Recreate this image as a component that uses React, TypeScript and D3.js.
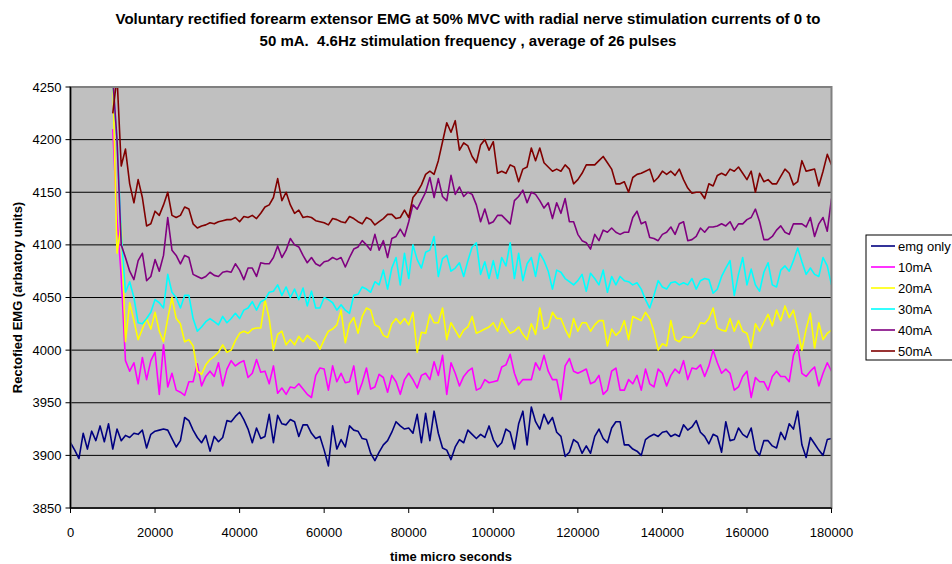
import React from 'react';
import * as d3 from 'd3';

// sample spacing of the averaged traces (micro seconds)
const sampleStep = 1000;
const emgOnlyStart = 0;
const stimStart = 10000;

const emgOnly = [
  3912, 3905, 3897, 3921, 3906, 3923, 3914, 3928, 3913, 3930,
  3906, 3925, 3914, 3919, 3917, 3921, 3920, 3924, 3907, 3920,
  3923, 3924, 3925, 3924, 3916, 3908, 3914, 3936, 3933, 3924,
  3917, 3912, 3919, 3904, 3918, 3913, 3917, 3933, 3932, 3937,
  3941, 3934, 3925, 3912, 3926, 3916, 3918, 3939, 3912, 3938,
  3930, 3929, 3934, 3932, 3918, 3929, 3929, 3921, 3916, 3918,
  3905, 3890, 3928, 3906, 3915, 3908, 3928, 3924, 3923, 3916,
  3915, 3902, 3895, 3903, 3910, 3914, 3922, 3932, 3928, 3925,
  3926, 3921, 3939, 3912, 3940, 3914, 3942, 3921, 3907, 3905,
  3896, 3908, 3915, 3912, 3924, 3920, 3916, 3920, 3917, 3928,
  3915, 3908, 3912, 3925, 3922, 3906, 3930, 3942, 3910, 3946,
  3932, 3925, 3939, 3930, 3936, 3922, 3918, 3899, 3903, 3915,
  3912, 3902, 3909, 3902, 3918, 3925, 3916, 3912, 3926, 3932,
  3932, 3910, 3910, 3906, 3904, 3900, 3915, 3918, 3920, 3918,
  3922, 3923, 3918, 3920, 3918, 3929, 3924, 3927, 3933, 3922,
  3918, 3911, 3920, 3918, 3903, 3932, 3914, 3915, 3926, 3920,
  3917, 3926, 3905, 3900, 3914, 3914, 3909, 3907, 3922, 3915,
  3930, 3925, 3942, 3910, 3898, 3917, 3911, 3905, 3900, 3915,
  3916,
];

const stim10mA = [
  4210, 4125, 4070, 3990, 3980, 3988, 3968, 3993, 3972, 3990,
  3998, 3958, 4005, 3965, 3978, 3962, 3960, 3957, 3970, 3970,
  3987, 3966, 3975, 3980, 3975, 3988, 3966, 3982, 3990, 3985,
  3988, 3990, 3974, 3978, 3991, 3979, 3980, 3968, 3985, 3959,
  3964, 3958, 3965, 3964, 3968, 3963, 3958, 3955, 3976, 3983,
  3982, 3962, 3985, 3970, 3978, 3969, 3970, 3985, 3958, 3969,
  3983, 3963, 3965, 3977, 3974, 3960, 3976, 3970, 3958, 3972,
  3978, 3972, 3964, 3976, 3978, 3972, 3989, 3976, 3995, 3958,
  3988, 3978, 3966, 3975, 3980, 3983, 3962, 3964, 3972, 3969,
  3970, 3971, 3984, 3986, 3996, 3978, 3967, 3972, 3972, 3972,
  3988, 3981, 3995, 3980, 3972, 3972, 3953, 3985, 3992, 3980,
  3978, 3980, 3982, 3968, 3970, 3976, 3958, 3962, 3980, 3983,
  3962, 3962, 3972, 3968, 3976, 3962, 3982, 3968, 3965, 3982,
  3978, 3966, 3976, 3982, 3978, 3990, 3972, 3983, 3982, 3986,
  3975, 3985, 4000, 3988, 3978, 3982, 3978, 3962, 3965, 3975,
  3980, 3955, 3974, 3970, 3970, 3962, 3975, 3980, 3975, 3975,
  3970, 3995, 4005, 3978, 3975, 3980, 3984, 3966, 3978, 3988,
  3980,
];

const stim20mA = [
  4260, 4092, 4120, 4008, 4045, 4028, 4010, 4020, 4030, 4020,
  4036, 4018, 4008, 4030, 4050, 4030, 4025, 4008, 4010, 4004,
  3980, 3977, 3986, 3991, 3994, 3998, 4005, 3998, 4000, 4009,
  4016, 4018, 4016, 4020, 4021, 4021, 4048, 4030, 4000, 4015,
  4018, 4005, 4010, 4005, 4013, 4008, 4014, 4010, 4008, 4001,
  4010, 4018, 4020, 4024, 4038, 4007, 4025, 4031, 4016, 4032,
  4040, 4038, 4024, 4022, 4014, 4012, 4025, 4030, 4025, 4030,
  4024, 4036, 3998, 4017, 4016, 4034, 4026, 4026, 4040, 4010,
  4026, 4019, 4012, 4019, 4022, 4032, 4016, 4018, 4020, 4022,
  4026, 4018, 4030, 4022, 4016, 4018, 4022, 4015, 4010, 4025,
  4015, 4040, 4020, 4022, 4036, 4030, 4030, 4020, 4012, 4030,
  4018, 4026, 4026, 4018, 4024, 4028, 4028, 4004, 4020, 4014,
  4018, 4028, 4010, 4032, 4030, 4028, 4036, 4030, 4018, 4000,
  4006, 4004, 4028, 4010, 4008, 4013, 4012, 4012, 4017, 4026,
  4025, 4030, 4040, 4021, 4019, 4018, 4030, 4018, 4028, 4018,
  4016, 4002, 4025, 4018, 4026, 4034, 4023, 4038, 4028, 4042,
  4031, 4038, 4020, 4000, 4020, 4035, 4002, 4026, 4010, 4016,
  4019,
];

const stim30mA = [
  4255, 4200, 4110, 4055, 4065, 4050, 4026, 4025, 4030, 4036,
  4048, 4045, 4040, 4072, 4055, 4050, 4040, 4052, 4052, 4030,
  4018, 4022, 4027, 4030, 4027, 4024, 4032, 4026, 4030, 4035,
  4030, 4038, 4040, 4046, 4038, 4046, 4048, 4055, 4056, 4062,
  4052, 4060, 4050, 4058, 4048, 4059, 4042, 4056, 4040, 4040,
  4050, 4048, 4045, 4038, 4043, 4038, 4035, 4052, 4053, 4060,
  4058, 4055, 4065, 4062, 4076, 4058, 4078, 4088, 4062, 4092,
  4068, 4100, 4086, 4078, 4093, 4095, 4108, 4070, 4087, 4090,
  4075, 4078, 4083, 4070, 4085, 4098, 4102, 4072, 4084, 4068,
  4085, 4068, 4088, 4080, 4102, 4068, 4092, 4066, 4082, 4088,
  4070, 4092, 4085, 4075, 4058, 4076, 4074, 4068, 4065, 4062,
  4066, 4072, 4056, 4073, 4068, 4062, 4076, 4055, 4070, 4062,
  4070, 4066, 4065, 4062, 4064, 4058, 4048, 4040, 4052, 4066,
  4060, 4058, 4064, 4065, 4062, 4064, 4062, 4068, 4058, 4066,
  4068, 4067, 4054, 4058, 4070, 4078, 4085, 4052, 4072, 4088,
  4062, 4077, 4062, 4056, 4074, 4083, 4062, 4060, 4076, 4080,
  4075, 4085, 4097, 4084, 4072, 4078, 4072, 4070, 4088, 4080,
  4062,
];

const stim40mA = [
  4258, 4200, 4100, 4088, 4075, 4067, 4085, 4092, 4066, 4070,
  4086, 4075, 4090, 4126, 4095, 4090, 4082, 4090, 4088, 4072,
  4070, 4068, 4070, 4074, 4071, 4070, 4074, 4075, 4074, 4082,
  4076, 4067, 4078, 4078, 4070, 4083, 4082, 4082, 4088, 4099,
  4088, 4095, 4106, 4100, 4098, 4090, 4083, 4088, 4082, 4080,
  4084, 4085, 4088, 4086, 4088, 4079, 4088, 4096, 4098, 4104,
  4100, 4095, 4110, 4095, 4104, 4088, 4106, 4108, 4115, 4108,
  4122, 4138, 4134, 4142, 4150, 4164, 4145, 4163, 4146, 4142,
  4166, 4148, 4155, 4146, 4150, 4148, 4138, 4122, 4134, 4120,
  4122, 4128, 4128, 4124, 4120, 4142, 4146, 4152, 4140, 4150,
  4148, 4142, 4135, 4140, 4125, 4140, 4130, 4144, 4122, 4122,
  4110, 4104, 4102, 4096, 4110, 4104, 4114, 4112, 4116, 4112,
  4110, 4112, 4112, 4126, 4132, 4120, 4122, 4107, 4106, 4104,
  4110, 4112, 4117, 4110, 4120, 4122, 4104, 4105, 4108, 4116,
  4112, 4117, 4117, 4118, 4120, 4118, 4122, 4114, 4120, 4120,
  4124, 4126, 4134, 4122, 4105, 4105, 4108, 4114, 4118, 4112,
  4110, 4120, 4120, 4120, 4117, 4126, 4108, 4120, 4126, 4113,
  4144,
];

const stim50mA = [
  4225, 4260, 4175, 4191, 4158, 4140, 4162, 4145, 4118, 4120,
  4132, 4128, 4138, 4150, 4128, 4126, 4128, 4136, 4134, 4120,
  4116, 4118, 4119, 4121, 4120, 4122, 4123, 4124, 4124, 4126,
  4122, 4127, 4126, 4128, 4125, 4130, 4136, 4138, 4145, 4163,
  4142, 4150, 4138, 4130, 4133, 4126, 4127, 4126, 4123, 4122,
  4121, 4119, 4125, 4124, 4122, 4121, 4127, 4125, 4122, 4120,
  4126, 4124, 4119, 4122, 4125, 4129, 4129, 4125, 4126, 4133,
  4126, 4145, 4150, 4157, 4167, 4170, 4167, 4180, 4198, 4216,
  4207, 4218, 4190, 4197, 4194, 4184, 4178, 4195, 4200, 4190,
  4198, 4168, 4170, 4168, 4176, 4174, 4160, 4172, 4174, 4192,
  4180, 4192, 4178, 4174, 4170, 4172, 4170, 4176, 4172, 4158,
  4162, 4168, 4176, 4176, 4176, 4180, 4184, 4178, 4172, 4158,
  4158, 4160, 4150, 4164, 4167, 4168, 4170, 4172, 4160, 4164,
  4170, 4167, 4170, 4166, 4172, 4162, 4154, 4149, 4150, 4150,
  4144, 4158, 4156, 4166, 4168, 4166, 4172, 4170, 4174, 4168,
  4162, 4170, 4150, 4168, 4160, 4162, 4158, 4158, 4165, 4172,
  4168, 4157, 4160, 4180, 4170, 4171, 4172, 4156, 4170, 4186,
  4176,
];

const seriesNames = ['emg only', '10mA', '20mA', '30mA', '40mA', '50mA'];
const seriesColors = ['#000080', '#FF00FF', '#FFFF00', '#00FFFF', '#800080', '#800000'];
const seriesStarts = [emgOnlyStart, stimStart, stimStart, stimStart, stimStart, stimStart];
const seriesValues = [emgOnly, stim10mA, stim20mA, stim30mA, stim40mA, stim50mA];

const yTicks = [3850, 3900, 3950, 4000, 4050, 4100, 4150, 4200, 4250];
const xTicks = [0, 20000, 40000, 60000, 80000, 100000, 120000, 140000, 160000, 180000];

const titleLines = [
  'Voluntary rectified forearm extensor EMG at 50% MVC with radial nerve stimulation currents of 0 to',
  '50 mA.  4.6Hz stimulation frequency , average of 26 pulses',
];

const W = 952;
const H = 564;
const left = 70.5;
const right = 831.5;
const top = 87;
const bottom = 508;
const font = '"Liberation Sans", Arial, sans-serif';

export default function App() {
  const x = d3.scaleLinear().domain([0, 180000]).range([left, right]);
  const y = d3.scaleLinear().domain([3850, 4250]).range([bottom, top]);

  const line = d3
    .line<[number, number]>()
    .x((d) => x(d[0]))
    .y((d) => y(d[1]));

  const paths = seriesValues.map((vals, i) =>
    line(vals.map((v, k) => [seriesStarts[i] + k * sampleStep, v] as [number, number]))
  );

  const cx = (left + right) / 2;
  const cy = (top + bottom) / 2;

  return (
    <svg
      width={W}
      height={H}
      style={{ position: 'absolute', left: 0, top: 0, background: '#fff' }}
      fontFamily={font}
    >
      <defs>
        <clipPath id="plotClip">
          <rect x={left} y={top} width={right - left} height={bottom - top} />
        </clipPath>
      </defs>

      {titleLines.map((t, i) => (
        <text
          key={i}
          x={468}
          y={24 + i * 22}
          textAnchor="middle"
          fontSize={15}
          fontWeight="bold"
          style={{ whiteSpace: 'pre' }}
        >
          {t}
        </text>
      ))}

      <rect x={left} y={top} width={right - left} height={bottom - top} fill="#C0C0C0" />

      {yTicks.slice(1, -1).map((t) => (
        <line key={t} x1={left} x2={right} y1={y(t)} y2={y(t)} stroke="#000" strokeWidth={1} />
      ))}

      <g clipPath="url(#plotClip)">
        {paths.map((d, i) => (
          <path key={i} d={d || ''} fill="none" stroke={seriesColors[i]} strokeWidth={1.6} strokeLinejoin="round" />
        ))}
      </g>

      <rect
        x={left}
        y={top}
        width={right - left}
        height={bottom - top}
        fill="none"
        stroke="#808080"
        strokeWidth={2}
      />
      <line x1={left} x2={left} y1={top} y2={bottom} stroke="#000" strokeWidth={1.5} />
      <line x1={left} x2={right} y1={bottom} y2={bottom} stroke="#000" strokeWidth={1.5} />

      {yTicks.map((t) => (
        <g key={t}>
          <line x1={left - 5} x2={left} y1={y(t)} y2={y(t)} stroke="#000" />
          <text x={left - 9} y={y(t) + 4.5} textAnchor="end" fontSize={13}>
            {t}
          </text>
        </g>
      ))}

      {xTicks.map((t) => (
        <g key={t}>
          <line x1={x(t)} x2={x(t)} y1={bottom} y2={bottom + 5} stroke="#000" />
          <text x={x(t)} y={bottom + 29} textAnchor="middle" fontSize={13}>
            {t}
          </text>
        </g>
      ))}

      <text x={cx} y={561} textAnchor="middle" fontSize={13} fontWeight="bold">
        time micro seconds
      </text>
      <text
        transform={`translate(22,${cy}) rotate(-90)`}
        textAnchor="middle"
        fontSize={13}
        fontWeight="bold"
      >
        Rectofied EMG (arbatory units)
      </text>

      <rect x={866} y={235} width={100} height={125} fill="#fff" stroke="#000" />
      {seriesNames.map((n, i) => (
        <g key={n} transform={`translate(0,${246 + i * 21})`}>
          <line x1={871} x2={895} y1={0} y2={0} stroke={seriesColors[i]} strokeWidth={1.6} />
          <text x={898} y={4.5} fontSize={13}>
            {n}
          </text>
        </g>
      ))}
    </svg>
  );
}
